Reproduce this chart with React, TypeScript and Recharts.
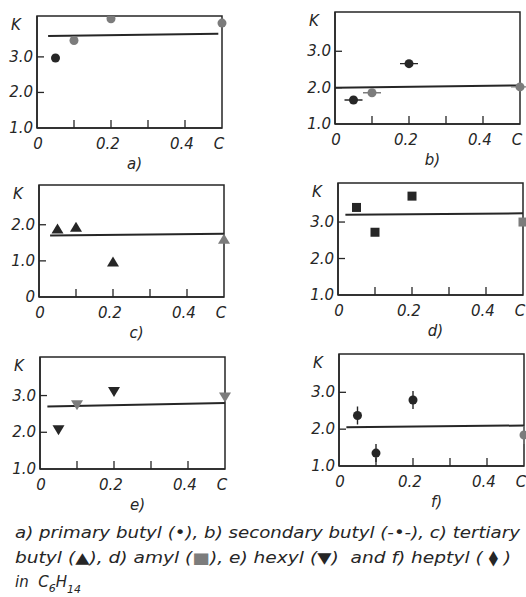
import React from 'react';
import { ComposedChart, Scatter, Line, XAxis, YAxis, ReferenceArea } from 'recharts';

// concentration positions of the four measured points (C = pure solvent end)
const X_POS = [0.05, 0.1, 0.2, 0.5];
const X_TICKS = [0, 0.1, 0.2, 0.3, 0.4, 0.5];
const X_LABELS = ['0', '', '0.2', '', '0.4', 'C'];

const Y_TICKS = [1, 2, 3];
const Y_LABELS = ['1.0', '2.0', '3.0'];
const Y_TICKS_C = [0, 1, 2];
const Y_LABELS_C = ['0', '1.0', '2.0'];

// K values per panel
const K_A = [2.97, 3.46, 4.07, 3.95];
const K_B = [1.66, 1.86, 2.66, 2.02];
const K_C = [1.88, 1.93, 0.97, 1.6];
const K_D = [3.4, 2.72, 3.71, 3.0];
const K_E = [2.07, 2.75, 3.11, 2.96];
const K_F = [2.37, 1.35, 2.79, 1.84];

// fitted lines (start / end)
const FIT_X_A = [0.03, 0.49];
const FIT_K_A = [3.59, 3.65];
const FIT_X_B = [0, 0.5];
const FIT_K_B = [2.0, 2.06];
const FIT_X_C = [0.03, 0.5];
const FIT_K_C = [1.7, 1.75];
const FIT_X_D = [0.02, 0.5];
const FIT_K_D = [3.2, 3.24];
const FIT_X_E = [0.02, 0.5];
const FIT_K_E = [2.7, 2.8];
const FIT_X_F = [0.02, 0.5];
const FIT_K_F = [2.05, 2.1];

// which points are printed grey
const GREY_A = [false, true, true, true];
const GREY_B = [false, true, false, true];
const GREY_C = [false, false, false, true];
const GREY_D = [false, false, false, true];
const GREY_E = [false, true, false, true];
const GREY_F = [false, false, false, true];

const INK = '#262626';
const GREY = '#7c7c7c';
const FONT = { fontFamily: '"DejaVu Sans", sans-serif', fontStyle: 'italic', fontSize: 15, fill: INK } as const;

const YW = 37; // y axis width
const MT = 12;
const MR = 14;
const XH = 48;
const PW = 185;
const PH = 112;

type Kind = 'dot' | 'dotH' | 'tri' | 'sq' | 'triDown' | 'dotV';

const panels = [
  { id: 'a', k: K_A, grey: GREY_A, fx: FIT_X_A, fk: FIT_K_A, y: [1, 4.15], yt: Y_TICKS, yl: Y_LABELS, kind: 'dot' as Kind, left: 37, top: 16 },
  { id: 'b', k: K_B, grey: GREY_B, fx: FIT_X_B, fk: FIT_K_B, y: [1, 4.08], yt: Y_TICKS, yl: Y_LABELS, kind: 'dotH' as Kind, left: 335, top: 12 },
  { id: 'c', k: K_C, grey: GREY_C, fx: FIT_X_C, fk: FIT_K_C, y: [0, 3.1], yt: Y_TICKS_C, yl: Y_LABELS_C, kind: 'tri' as Kind, left: 39, top: 185 },
  { id: 'd', k: K_D, grey: GREY_D, fx: FIT_X_D, fk: FIT_K_D, y: [1, 4.07], yt: Y_TICKS, yl: Y_LABELS, kind: 'sq' as Kind, left: 338, top: 183 },
  { id: 'e', k: K_E, grey: GREY_E, fx: FIT_X_E, fk: FIT_K_E, y: [1, 4.05], yt: Y_TICKS, yl: Y_LABELS, kind: 'triDown' as Kind, left: 40, top: 357 },
  { id: 'f', k: K_F, grey: GREY_F, fx: FIT_X_F, fk: FIT_K_F, y: [1, 4.04], yt: Y_TICKS, yl: Y_LABELS, kind: 'dotV' as Kind, left: 339, top: 354 },
];

function Marker(props: any) {
  const { cx, cy, payload, kind } = props;
  if (cx == null || cy == null) return <g />;
  const fill = payload?.grey ? GREY : INK;
  switch (kind as Kind) {
    case 'dotH':
      return (
        <g>
          <line x1={cx - 9} x2={cx + 9} y1={cy} y2={cy} stroke={fill} strokeWidth={1.4} />
          <circle cx={cx} cy={cy} r={4.5} fill={fill} />
        </g>
      );
    case 'dotV':
      return (
        <g>
          <line x1={cx} x2={cx} y1={cy - 9} y2={cy + 9} stroke={fill} strokeWidth={1.4} />
          <circle cx={cx} cy={cy} r={4.5} fill={fill} />
        </g>
      );
    case 'tri':
      return <polygon points={`${cx},${cy - 5.5} ${cx + 6},${cy + 4.5} ${cx - 6},${cy + 4.5}`} fill={fill} />;
    case 'triDown':
      return <polygon points={`${cx},${cy + 5.5} ${cx + 6},${cy - 4.5} ${cx - 6},${cy - 4.5}`} fill={fill} />;
    case 'sq':
      return <rect x={cx - 4.5} y={cy - 4.5} width={9} height={9} fill={fill} />;
    default:
      return <circle cx={cx} cy={cy} r={4.5} fill={fill} />;
  }
}

function XTick(props: any) {
  const { x, y, payload } = props;
  const v = payload.value;
  const i = X_TICKS.indexOf(v);
  const label = i >= 0 ? X_LABELS[i] : '';
  const inner = v > 0 && v < 0.5;
  return (
    <g>
      {inner && <line x1={x} x2={x} y1={y} y2={y - 8} stroke={INK} strokeWidth={1.3} />}
      {label && (
        <text x={v > 0 ? x - 3 : x + 1} y={y + 21} textAnchor="middle" style={FONT}>
          {label}
        </text>
      )}
    </g>
  );
}

function YTick(props: any) {
  const { x, y, payload, ticks, labels, min } = props;
  const v = payload.value;
  const i = ticks.indexOf(v);
  return (
    <g>
      {v > min && <line x1={x} x2={x + 7} y1={y} y2={y} stroke={INK} strokeWidth={1.3} />}
      <text x={x - 4} y={y + 5} textAnchor="end" style={FONT}>
        {i >= 0 ? labels[i] : ''}
      </text>
    </g>
  );
}

function Panel({ p }: { p: (typeof panels)[number] }) {
  const data = X_POS.map((x, i) => ({ x, k: p.k[i], grey: p.grey[i] }));
  const fit = p.fx.map((x, i) => ({ x, k: p.fk[i] }));
  const axisLine = { stroke: INK, strokeWidth: 1.5 };
  return (
    <div style={{ position: 'absolute', left: p.left - YW, top: p.top - MT }}>
      <ComposedChart
        width={YW + PW + MR}
        height={MT + PH + XH}
        margin={{ top: MT, right: MR, bottom: 0, left: 0 }}
      >
        <XAxis
          type="number"
          dataKey="x"
          domain={[0, 0.5]}
          ticks={X_TICKS}
          interval={0}
          tickSize={0}
          tickMargin={0}
          tickLine={false}
          axisLine={axisLine}
          height={XH}
          tick={<XTick />}
          label={(lp: any) => {
            const vb = lp.viewBox ?? lp;
            return (
              <text x={vb.x + vb.width / 2 + 5} y={vb.y + 41} textAnchor="middle" style={FONT}>
                {p.id + ')'}
              </text>
            );
          }}
        />
        <YAxis
          type="number"
          dataKey="k"
          domain={p.y}
          ticks={p.yt}
          interval={0}
          allowDataOverflow
          width={YW}
          tickSize={0}
          tickMargin={0}
          tickLine={false}
          axisLine={axisLine}
          tick={<YTick ticks={p.yt} labels={p.yl} min={p.y[0]} />}
          label={(lp: any) => {
            const vb = lp.viewBox ?? lp;
            return (
              <text x={vb.x + 16} y={vb.y + 14} textAnchor="middle" style={FONT}>
                K
              </text>
            );
          }}
        />
        <ReferenceArea
          x1={0}
          x2={0.5}
          y1={p.y[0]}
          y2={p.y[1]}
          fill="none"
          stroke={INK}
          strokeWidth={1.5}
          ifOverflow="visible"
        />
        <Line
          data={fit}
          dataKey="k"
          stroke={INK}
          strokeWidth={2}
          dot={false}
          activeDot={false}
          isAnimationActive={false}
        />
        <Scatter
          data={data}
          dataKey="k"
          shape={(sp: any) => <Marker {...sp} kind={p.kind} />}
          isAnimationActive={false}
        />
      </ComposedChart>
    </div>
  );
}

export default function App() {
  const cap = { ...FONT, fontSize: 15, whiteSpace: 'pre' } as const;
  return (
    <div style={{ position: 'absolute', left: 0, top: 0, width: 526, height: 597, background: '#fff', overflow: 'hidden' }}>
      {panels.map((p) => (
        <Panel key={p.id} p={p} />
      ))}
      <svg width={526} height={80} style={{ position: 'absolute', left: 0, top: 517 }}>
        <text x={15} y={21} style={cap} textLength={505} lengthAdjust="spacingAndGlyphs">
          a) primary butyl (•), b) secondary butyl (-•-), c) tertiary
        </text>
        <text x={15} y={46} style={cap} textLength={496} lengthAdjust="spacingAndGlyphs">
          butyl (▲), d) amyl (<tspan style={{ fill: GREY }}>■</tspan>), e) hexyl (▼)  and f) heptyl ( ⧫ )
        </text>
        <text x={15} y={70} style={cap}>
          in  C<tspan dy={5} style={{ fontSize: 11 }}>6</tspan>
          <tspan dy={-5}>H</tspan>
          <tspan dy={6} style={{ fontSize: 11 }}>14</tspan>
        </text>
      </svg>
    </div>
  );
}
